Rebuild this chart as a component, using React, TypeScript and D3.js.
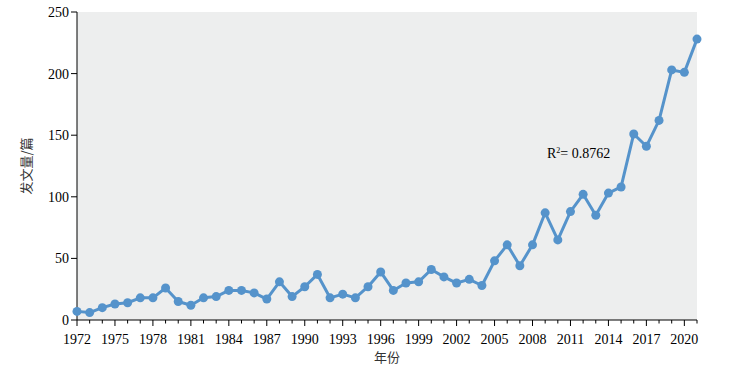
import React from "react";
import * as d3 from "d3";

const years: number[] = [
  1972, 1973, 1974, 1975, 1976, 1977, 1978, 1979, 1980, 1981, 1982, 1983, 1984, 1985, 1986, 1987,
  1988, 1989, 1990, 1991, 1992, 1993, 1994, 1995, 1996, 1997, 1998, 1999, 2000, 2001, 2002, 2003,
  2004, 2005, 2006, 2007, 2008, 2009, 2010, 2011, 2012, 2013, 2014, 2015, 2016, 2017, 2018, 2019,
  2020, 2021,
];
const counts: number[] = [
  7, 6, 10, 13, 14, 18, 18, 26, 15, 12, 18, 19, 24, 24, 22, 17,
  31, 19, 27, 37, 18, 21, 18, 27, 39, 24, 30, 31, 41, 35, 30, 33,
  28, 48, 61, 44, 61, 87, 65, 88, 102, 85, 103, 108, 151, 141, 162, 203,
  201, 228,
];
const yTicks: number[] = [0, 50, 100, 150, 200, 250];
const xLabelYears: number[] = [1972, 1975, 1978, 1981, 1984, 1987, 1990, 1993, 1996, 1999, 2002, 2005, 2008, 2011, 2014, 2017, 2020];
const yTitle = "发文量/篇";
const xTitle = "年份";
const r2Text = "0.8762";

const W = 735;
const H = 375;
const left = 77;
const right = 697;
const top = 12;
const bottom = 320;

export default function App() {
  const x = d3.scaleLinear().domain([1972, 2021]).range([left, right]);
  const y = d3.scaleLinear().domain([0, 250]).range([bottom, top]);
  const pts = years.map((yr, i) => [x(yr), y(counts[i])] as [number, number]);
  const line = d3.line()(pts) || "";
  const serif = "'Liberation Serif', 'Times New Roman', serif";
  const tickYears = d3.range(1972, 2022);
  return (
    <svg width={W} height={H} style={{ position: "absolute", left: 0, top: 0 }}>
      <rect x={left} y={top} width={right - left} height={bottom - top} fill="#edeeee" />
      {/* y axis */}
      <line x1={left} x2={left} y1={top} y2={bottom} stroke="#000" strokeWidth={1} />
      {yTicks.map((t) => (
        <g key={t}>
          <line x1={left - 6} x2={left} y1={y(t)} y2={y(t)} stroke="#000" />
          <text x={left - 8} y={y(t)} dy="0.35em" textAnchor="end" fontFamily={serif} fontSize={14} fill="#000">
            {t}
          </text>
        </g>
      ))}
      {/* x axis */}
      <line x1={left} x2={right} y1={bottom} y2={bottom} stroke="#000" strokeWidth={1} />
      {tickYears.map((t) => {
        const major = xLabelYears.includes(t);
        return (
          <line key={t} x1={x(t)} x2={x(t)} y1={bottom} y2={bottom + (major ? 6 : 3.5)} stroke="#000" />
        );
      })}
      {xLabelYears.map((t) => (
        <text key={t} x={x(t)} y={bottom + 24} textAnchor="middle" fontFamily={serif} fontSize={14} fill="#000">
          {t}
        </text>
      ))}
      <path d={line} fill="none" stroke="#5593cb" strokeWidth={3} strokeLinejoin="round" />
      {pts.map((p, i) => (
        <circle key={i} cx={p[0]} cy={p[1]} r={4.5} fill="#5593cb" />
      ))}
      <text x={547} y={158} fontFamily={serif} fontSize={14} fill="#000">
        R<tspan dy={-5} fontSize={8}>2</tspan>
        <tspan dy={5}>= {r2Text}</tspan>
      </text>
      <text
        transform={`translate(31, ${(top + bottom) / 2}) rotate(-90)`}
        textAnchor="middle"
        fontFamily="'Noto Sans CJK SC', sans-serif"
        fontSize={13}
        fill="#333"
      >
        {yTitle}
      </text>
      <text x={(left + right) / 2} y={362} textAnchor="middle" fontFamily="'Noto Sans CJK SC', sans-serif" fontSize={13} fill="#333">
        {xTitle}
      </text>
    </svg>
  );
}
